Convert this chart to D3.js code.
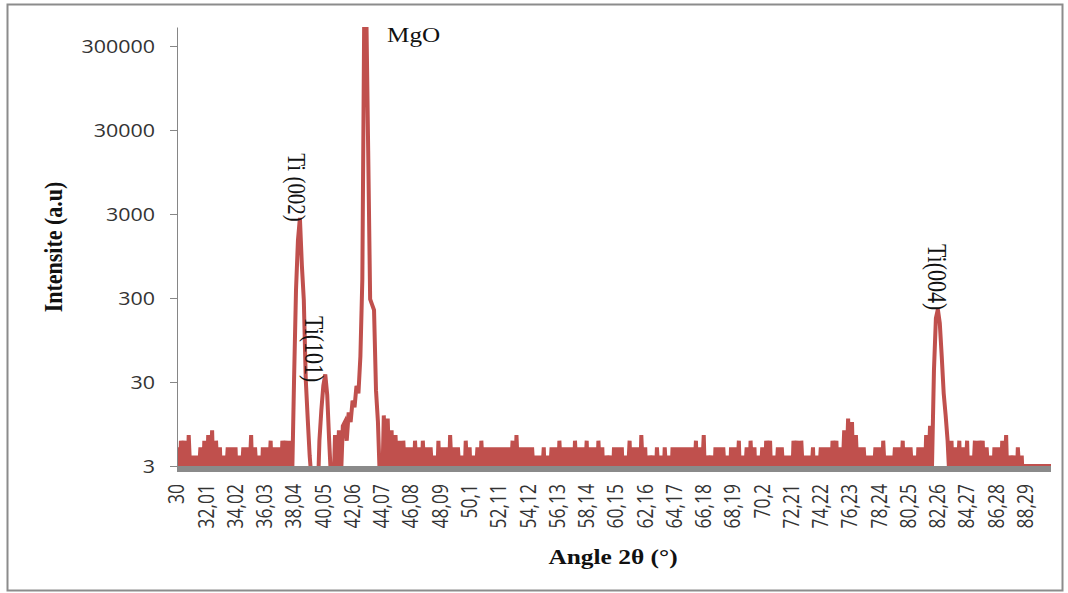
<!DOCTYPE html>
<html><head><meta charset="utf-8">
<script src="https://cdn.jsdelivr.net/npm/d3@7"></script>
<style>html,body{margin:0;padding:0;background:#fff;} svg{display:block;}</style>
</head><body>
<svg id="chart" width="1068" height="593"></svg>
<script>
// ---- data ----
const angleStart = 30;          // first category (degrees)
const angleStep = 0.134;        // category step (degrees)
const tickLabels = ["30","32,01","34,02","36,03","38,04","40,05","42,06","44,07","46,08","48,09",
  "50,1","52,11","54,12","56,13","58,14","60,15","62,16","64,17","66,18","68,19",
  "70,2","72,21","74,22","76,23","78,24","80,25","82,26","84,27","86,28","88,29"];
const tickEvery = 15;           // a label every 15 categories
const yTickValues = [3, 30, 300, 3000, 30000, 300000];
const yMin = 3, yMax = 505000;
// intensity (a.u.), one line per label interval
const intensity = [
  5,1,6,2,6,1,7,2,4,1,4,2,5,1,6,
  1,7,2,8,1,6,2,5,1,4,2,5,1,5,2,
  5,1,4,2,5,1,5,2,7,1,5,2,4,1,5,
  1,5,2,6,1,5,2,5,1,6,2,6,1,6,2,
  32,372,1470,2700,740,284,32,11,4,2,1,2,1,6,14,
  27,37,21,6,2,1,7,2,8,2,9,10,6,13,10,
  18,15,27,22,60,500,900000,900000,17000,290,250,215,24,10,2,
  1,12,2,11,2,8,1,7,2,6,1,6,2,5,1,
  5,1,6,2,5,1,6,2,5,1,5,2,4,1,6,
  1,5,2,5,1,7,2,5,1,5,2,4,1,6,2,
  5,1,4,2,5,1,6,2,5,1,5,2,5,1,5,
  1,5,2,5,1,5,2,6,1,7,2,5,1,5,2,
  5,1,5,2,4,1,4,2,5,1,4,2,5,1,5,
  1,6,2,5,1,5,2,5,1,6,2,5,1,5,2,
  6,1,5,2,5,1,6,2,5,1,4,2,4,1,5,
  1,5,2,5,1,4,2,6,1,5,2,5,1,7,2,
  5,1,4,2,4,1,5,2,4,1,5,2,4,1,5,
  1,5,2,5,1,5,2,5,1,5,2,6,1,5,2,
  7,1,4,2,4,1,5,2,5,1,5,2,4,1,5,
  1,5,2,6,1,4,2,5,1,6,2,5,1,4,2,
  5,1,6,2,6,1,4,2,5,1,5,2,4,1,4,
  1,6,2,6,1,6,2,4,1,4,2,5,1,4,2,
  5,1,5,2,5,1,6,2,6,1,5,2,8,2,11,
  2,10,1,7,2,5,1,5,2,4,1,4,2,5,1,
  5,1,6,2,4,1,4,2,5,1,5,2,6,1,5,
  1,5,2,4,1,5,2,5,1,7,2,9,3,41,172,
  220,150,60,22,12,6,2,6,1,5,2,6,1,5,2,
  6,1,4,2,6,1,6,2,6,1,5,2,4,1,5,
  2,5,1,6,2,7,1,4,2,4,1,5,2,4,1,
  3,3,3,3,3,3,3,3,3,3,3,3,3,3
];
const peakLabels = ["MgO", "Ti (002)", "Ti(101)", "Ti(004)"];
const peakIndex = [96, 63, 76, 390];
const xTitle = "Angle 2\u03B8 (\u00B0)";
const yTitle = "Intensite (a.u)";

// ---- layout ----
const W = 1068, H = 593;
const plot = {left: 177, right: 1051, top: 27, bottom: 466};
const svg = d3.select('#chart');
svg.append('rect').attr('width', W).attr('height', H).attr('fill', '#fff');
svg.append('rect').attr('x', 7.5).attr('y', 4.5).attr('width', 1055).attr('height', 586)
  .attr('fill', 'none').attr('stroke', '#8c8c8c').attr('stroke-width', 2);

const categories = intensity.map((_, i) => (angleStart + i * angleStep).toFixed(3));
const x = d3.scalePoint().domain(categories).range([plot.left, plot.right]);
const y = d3.scaleLog().domain([yMin, yMax]).range([plot.bottom, plot.top]);

svg.append('defs').append('clipPath').attr('id', 'clip').append('rect')
  .attr('x', plot.left).attr('y', plot.top)
  .attr('width', plot.right - plot.left).attr('height', plot.bottom - plot.top);

const line = d3.line().x((d, i) => x(categories[i])).y(d => y(d));
svg.append('path').datum(intensity).attr('d', line)
  .attr('clip-path', 'url(#clip)')
  .attr('fill', 'none').attr('stroke', '#C0504D').attr('stroke-width', 4);

// y axis
const yAxis = d3.axisLeft(y).tickValues(yTickValues).tickSize(7).tickSizeOuter(0)
  .tickFormat(d3.format('d'));
const gy = svg.append('g').attr('transform', `translate(${plot.left},0)`).call(yAxis);
gy.select('.domain').attr('stroke', '#868686');
gy.selectAll('.tick line').attr('stroke', '#868686');
gy.selectAll('.tick text')
  .attr('x', 0).attr('dy', '0.35em')
  .attr('transform', 'translate(-22,0) scale(1.19,1)')
  .attr('text-anchor', 'end')
  .attr('font-family', '"Open Sans", "Liberation Sans", sans-serif')
  .attr('font-size', 18).attr('fill', '#333');

// x axis bar
svg.append('rect').attr('x', plot.left).attr('y', plot.bottom)
  .attr('width', plot.right - plot.left).attr('height', 6).attr('fill', '#8a8a8a');

// x tick labels
svg.append('g').selectAll('text').data(tickLabels).join('text')
  .attr('transform', (d, k) => `translate(${x(categories[k * tickEvery])},484) scale(1.2,1) rotate(-90)`)
  .attr('text-anchor', 'end').attr('dy', '0.35em')
  .attr('font-family', '"Open Sans", "Liberation Sans", sans-serif')
  .attr('font-size', 17.5).attr('fill', '#333')
  .text(d => d);

// axis titles
svg.append('text').attr('transform', 'translate(613,564) scale(1.27,1)')
  .attr('text-anchor', 'middle')
  .attr('font-family', '"Liberation Serif", "Times New Roman", serif')
  .attr('font-weight', 'bold').attr('font-size', 20).attr('fill', '#111')
  .text(xTitle);
svg.append('text').attr('transform', 'translate(54,247) scale(1.1,1) rotate(-90)')
  .attr('text-anchor', 'middle').attr('dy', '0.32em')
  .attr('font-family', '"Liberation Serif", "Times New Roman", serif')
  .attr('font-weight', 'bold').attr('font-size', 22).attr('fill', '#111')
  .text(yTitle);

// peak annotations
const serif = '"Liberation Serif", "Times New Roman", serif';
svg.append('text').attr('transform', 'translate(387,42) scale(1.26,1)')
  .attr('font-family', serif).attr('font-size', 20).attr('fill', '#111')
  .text(peakLabels[0]);
const rotOffsets = [null, {dx: -3, dy: 4, fs: 21}, {dx: -11, dy: 8, fs: 22}, {dx: -1, dy: 1, fs: 22}];
for (let p = 1; p < peakLabels.length; p++) {
  const i = peakIndex[p];
  const o = rotOffsets[p];
  const px = x(categories[i]) + o.dx, py = y(intensity[i]) + o.dy;
  svg.append('text').attr('transform', `translate(${px},${py}) scale(1.22,1) rotate(90)`)
    .attr('text-anchor', 'end').attr('dy', '0.33em')
    .attr('font-family', serif).attr('font-size', o.fs).attr('fill', '#111')
    .text(peakLabels[p]);
}
</script>
</body></html>
